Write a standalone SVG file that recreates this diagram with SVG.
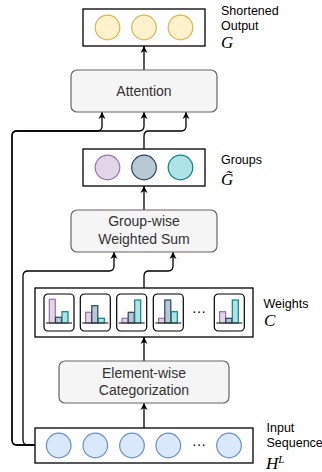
<svg xmlns="http://www.w3.org/2000/svg" width="322" height="472" viewBox="0 0 322 472">
<style>
.box{fill:#fff;stroke:#000;stroke-width:1.3}
.proc{fill:#f5f5f5;stroke:#666;stroke-width:1.2}
.pt{font-family:"Liberation Sans",Arial,sans-serif;font-size:14px;fill:#333;text-anchor:middle}
.lbl{font-family:"Liberation Sans",Arial,sans-serif;font-size:12.5px;fill:#000}
.math{font-family:"Liberation Serif","Times New Roman",serif;font-style:italic;font-size:17px;fill:#000}
.yel{fill:#fff2cc;stroke:#d6b656;stroke-width:1.2}
.blu{fill:#dae8fc;stroke:#6c8ebf;stroke-width:1.2}
.pur{fill:#e1d5e7;stroke:#9673a6;stroke-width:1.2}
.gry{fill:#bac8d3;stroke:#23445d;stroke-width:1.2}
.tea{fill:#b0e3e6;stroke:#0e8088;stroke-width:1.2}
.icon{fill:#fff;stroke:#000;stroke-width:1.2}
.base{stroke:#333;stroke-width:1.2}
.edge{fill:none;stroke:#000;stroke-width:1.3;marker-end:url(#arr)}
.dots{font-family:"Liberation Sans",Arial,sans-serif;font-size:14px;fill:#000;text-anchor:middle}
</style>
<defs>
<marker id="arr" markerUnits="userSpaceOnUse" markerWidth="8" markerHeight="8" refX="7" refY="4" orient="auto">
<path d="M0,0.5 L7,4 L0,7.5 L2,4 z" fill="#000"/>
</marker>
</defs>

<g id="connectors">
<path class="edge" d="M35,445 H17 Q12,445 12,440 V136 Q12,131 17,131 H97 Q102,131 102,126 V112"/>
<path class="edge" d="M35,445 H17 Q12,445 12,440 V136 Q12,131 17,131 H139 Q144,131 144,126 V112"/>
<path class="edge" d="M144,149 V136 Q144,131 149,131 H181 Q186,131 186,126 V112"/>
<path class="edge" d="M144,70 V46"/>
<path class="edge" d="M144,210 V186"/>
<path class="edge" d="M35,445 H28 Q23,445 23,440 V276 Q23,271 28,271 H109 Q114,271 114,266 V252"/>
<path class="edge" d="M144,288 V276 Q144,271 149,271 H168 Q173,271 173,266 V252"/>
<path class="edge" d="M144,361 V337"/>
<path class="edge" d="M144,428 V403"/>
</g>

<g id="output">
<rect class="box" x="83" y="9" width="122" height="37"/>
<circle class="yel" cx="107.5" cy="27.5" r="12.3"/>
<circle class="yel" cx="144" cy="27.5" r="12.3"/>
<circle class="yel" cx="180.5" cy="27.5" r="12.3"/>
<text class="lbl" x="221" y="15">Shortened</text>
<text class="lbl" x="221" y="30">Output</text>
<text class="math" x="221" y="47.5">G</text>
</g>

<g id="attention">
<rect class="proc" x="71" y="70" width="146" height="42" rx="6"/>
<text class="pt" x="144" y="96">Attention</text>
</g>

<g id="groups">
<rect class="box" x="83" y="149" width="122" height="37"/>
<circle class="pur" cx="107.5" cy="167.5" r="12.3"/>
<circle class="gry" cx="144" cy="167.5" r="12.3"/>
<circle class="tea" cx="180.5" cy="167.5" r="12.3"/>
<text class="lbl" x="221" y="164">Groups</text>
<text class="math" x="221" y="185">G̃</text>
</g>

<g id="groupwise">
<rect class="proc" x="71" y="210" width="146" height="42" rx="6"/>
<text class="pt" x="144" y="226">Group-wise</text>
<text class="pt" x="144" y="244">Weighted Sum</text>
</g>

<g id="weights">
<rect class="box" x="35" y="288" width="218" height="49"/>
<g transform="translate(44,294)">
<rect class="icon" x="0" y="0" width="30" height="37" rx="4"/>
<rect class="pur" x="5.3" y="5.3" width="6" height="23.7"/>
<rect class="gry" x="11.5" y="23.3" width="6" height="5.7"/>
<rect class="tea" x="18" y="17.7" width="6" height="11.3"/>
<line class="base" x1="2" y1="29" x2="28" y2="29"/>
</g>
<g transform="translate(80.3,294)">
<rect class="icon" x="0" y="0" width="30" height="37" rx="4"/>
<rect class="pur" x="5.3" y="18.3" width="6" height="10.7"/>
<rect class="gry" x="11.5" y="11.7" width="6" height="17.3"/>
<rect class="tea" x="18" y="24.3" width="6" height="4.7"/>
<line class="base" x1="2" y1="29" x2="28" y2="29"/>
</g>
<g transform="translate(116.7,294)">
<rect class="icon" x="0" y="0" width="30" height="37" rx="4"/>
<rect class="pur" x="5.3" y="24.3" width="6" height="4.7"/>
<rect class="gry" x="11.5" y="18.3" width="6" height="10.7"/>
<rect class="tea" x="18" y="6" width="6" height="23"/>
<line class="base" x1="2" y1="29" x2="28" y2="29"/>
</g>
<g transform="translate(153.3,294)">
<rect class="icon" x="0" y="0" width="30" height="37" rx="4"/>
<rect class="pur" x="5.3" y="24.3" width="6" height="4.7"/>
<rect class="gry" x="11.5" y="6" width="6" height="23"/>
<rect class="tea" x="18" y="17.7" width="6" height="11.3"/>
<line class="base" x1="2" y1="29" x2="28" y2="29"/>
</g>
<text class="dots" x="199" y="316">···</text>
<g transform="translate(214.3,294)">
<rect class="icon" x="0" y="0" width="30" height="37" rx="4"/>
<rect class="pur" x="5.3" y="17.7" width="6" height="11.3"/>
<rect class="gry" x="11.5" y="24.3" width="6" height="4.7"/>
<rect class="tea" x="18" y="6" width="6" height="23"/>
<line class="base" x1="2" y1="29" x2="28" y2="29"/>
</g>
<text class="lbl" x="263.5" y="308">Weights</text>
<text class="math" x="264" y="326">C</text>
</g>

<g id="elementwise">
<rect class="proc" x="59" y="361" width="170" height="42" rx="6"/>
<text class="pt" x="144" y="378">Element-wise</text>
<text class="pt" x="144" y="395">Categorization</text>
</g>

<g id="input">
<rect class="box" x="35" y="428" width="218" height="35"/>
<circle class="blu" cx="58.7" cy="445.5" r="12.3"/>
<circle class="blu" cx="95.3" cy="445.5" r="12.3"/>
<circle class="blu" cx="132" cy="445.5" r="12.3"/>
<circle class="blu" cx="168.3" cy="445.5" r="12.3"/>
<text class="dots" x="199" y="449">···</text>
<circle class="blu" cx="229" cy="445.5" r="12.3"/>
<text class="lbl" x="266.5" y="432">Input</text>
<text class="lbl" x="266.5" y="447">Sequence</text>
<text class="math" x="266" y="468.5">H<tspan font-size="11" dy="-6">L</tspan></text>
</g>
</svg>
